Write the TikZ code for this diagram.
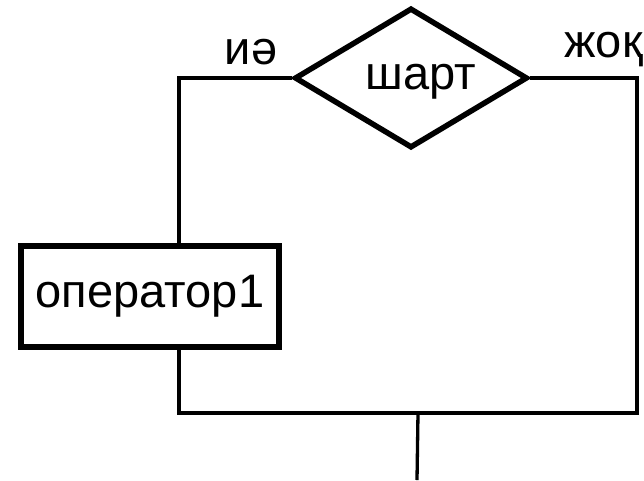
\documentclass[tikz,border=0pt]{standalone}
\usepackage{fontspec}
\setmainfont{Liberation Sans}
\usetikzlibrary{shapes.geometric,positioning}

\tikzset{
  bigtext/.style={font=\fontsize{47}{52}\selectfont},
  cond/.style={diamond,draw,line width=5.5pt,aspect=1.66,minimum width=233pt,minimum height=140pt,inner sep=0pt,text height=30pt,text depth=8pt,bigtext},
  opbox/.style={rectangle,draw,line width=5.5pt,minimum width=258pt,minimum height=101pt,inner sep=0pt,bigtext},
  flow/.style={line width=3.3pt}
}

\begin{document}
\begin{tikzpicture}[x=1pt,y=-1pt]
  \useasboundingbox (0,0) rectangle (644,480);

  % condition and the branch box
  \node[cond] (if) at (411,78) {\hspace{20pt}шарт};
  \node[opbox] (op1) at (150,296.5) {оператор1};

  \node[bigtext,anchor=base] (yes) at (251,64) {иә};
  \node[bigtext,anchor=base west] (no) at (561,57) {жоқ};

  \coordinate (ltop) at (179,78);
  \coordinate (lbot) at (179,413);
  \coordinate (rbot) at (637,413);
  \coordinate (join) at (418,413);
  \coordinate (exit) at (417,480);

  \draw[flow] (if.west) -- (ltop) -- (ltop |- op1.north);
  \draw[flow] (ltop |- op1.south) -- (lbot) -- (rbot) |- (if.east);
  \draw[flow] (join) -- (exit);
\end{tikzpicture}
\end{document}
